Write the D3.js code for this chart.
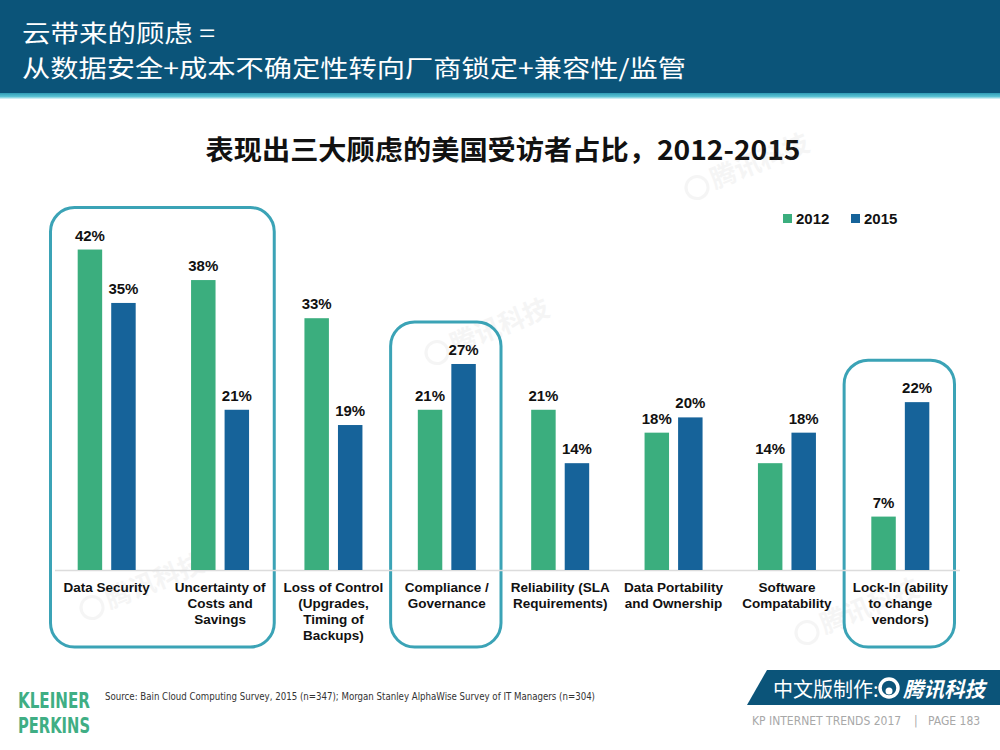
<!DOCTYPE html>
<html>
<head>
<meta charset="utf-8">
<script src="https://cdn.jsdelivr.net/npm/d3@7/dist/d3.min.js"></script>
<style>
  body { margin: 0; background: #fff; }
  svg { display: block; }
</style>
</head>
<body>
<div class="chart"></div>
<script>
(function (d3) {

    var categories = [
        ['Data Security'],
        ['Uncertainty of', 'Costs and', 'Savings'],
        ['Loss of Control', '(Upgrades,', 'Timing of', 'Backups)'],
        ['Compliance /', 'Governance'],
        ['Reliability (SLA', 'Requirements)'],
        ['Data Portability', 'and Ownership'],
        ['Software', 'Compatability'],
        ['Lock-In (ability', 'to change', 'vendors)']
    ];
    var years = ['2012', '2015'];
    var values2012 = [42, 38, 33, 21, 21, 18, 14, 7];
    var values2015 = [35, 21, 19, 27, 14, 20, 18, 22];
    // groups of categories that get a rounded outline
    var highlights = [[0, 1], [3, 3], [7, 7]];

    var colors = { '2012': '#3bae7e', '2015': '#16639a' };
    var width = 1000, height = 750;
    var baseline = 570;
    var latin = '"Liberation Sans", Arial, sans-serif';
    var narrow = '"Liberation Sans Narrow", "DejaVu Sans Condensed", sans-serif';
    var cjk = '"Noto Sans CJK SC", "Noto Sans", sans-serif';

    var svg = d3.select('.chart')
        .append('svg')
        .attr('width', width)
        .attr('height', height);

    // Header band
    var defs = svg.append('defs');
    var grad = defs.append('linearGradient')
        .attr('id', 'stripe').attr('x1', 0).attr('x2', 0).attr('y1', 0).attr('y2', 1);
    grad.append('stop').attr('offset', '0%').attr('stop-color', '#2f9cb6');
    grad.append('stop').attr('offset', '60%').attr('stop-color', '#5cc3d4');
    grad.append('stop').attr('offset', '100%').attr('stop-color', '#e8f8fa');

    svg.append('rect').attr('x', 0).attr('y', 0).attr('width', width).attr('height', 93)
        .attr('fill', '#0b5479');
    svg.append('rect').attr('x', 0).attr('y', 93).attr('width', width).attr('height', 6)
        .attr('fill', 'url(#stripe)');

    svg.append('text')
        .attr('x', 22).attr('y', 42)
        .attr('fill', '#fff')
        .attr('textLength', 193).attr('lengthAdjust', 'spacingAndGlyphs')
        .style('font-family', cjk).style('font-size', '24px')
        .text('云带来的顾虑 =');
    svg.append('text')
        .attr('x', 22).attr('y', 77)
        .attr('fill', '#fff')
        .attr('textLength', 664).attr('lengthAdjust', 'spacingAndGlyphs')
        .style('font-family', cjk).style('font-size', '24px')
        .text('从数据安全+成本不确定性转向厂商锁定+兼容性/监管');

    // Chart title
    svg.append('text')
        .attr('x', 503).attr('y', 160)
        .attr('text-anchor', 'middle')
        .attr('fill', '#111')
        .attr('textLength', 595).attr('lengthAdjust', 'spacingAndGlyphs')
        .style('font-family', cjk).style('font-size', '27px').style('font-weight', 'bold')
        .text('表现出三大顾虑的美国受访者占比，2012-2015');

    // Faint watermarks
    var marks = [[700, 195], [440, 360], [95, 615], [810, 640]];
    marks.forEach(function (m) {
        var g = svg.append('g')
            .attr('transform', 'translate(' + m[0] + ',' + m[1] + ') rotate(-22)')
            .attr('opacity', 0.08);
        g.append('circle').attr('cx', 0).attr('cy', -8).attr('r', 11)
            .attr('fill', 'none').attr('stroke', '#888').attr('stroke-width', 3);
        g.append('text').attr('x', 16).attr('y', 0)
            .attr('fill', '#888')
            .style('font-family', cjk).style('font-size', '26px').style('font-weight', 'bold')
            .text('腾讯科技');
    });

    // Scales
    var x = d3.scaleBand()
        .domain(d3.range(categories.length))
        .range([50, 957])
        .padding(0);

    var x1 = d3.scaleBand()
        .domain(years)
        .range([x.bandwidth() / 2 - 29, x.bandwidth() / 2 + 29])
        .paddingInner(0.27);

    var y = d3.scaleLinear()
        .domain([0, 50])
        .range([baseline, baseline - 50 * 7.63]);

    var groupTop = function (h) {
        return d3.max(d3.range(h[0], h[1] + 1), function (i) {
            return Math.max(values2012[i], values2015[i]);
        });
    };

    // Highlight boxes
    svg.selectAll('.box')
        .data(highlights)
        .enter()
            .append('rect')
            .attr('class', 'box')
            .attr('x', function (h) { return x(h[0]) + 0.5; })
            .attr('width', function (h) { return x(h[1]) + x.bandwidth() - x(h[0]) - 3; })
            .attr('y', function (h) { return y(groupTop(h)) - 42; })
            .attr('height', function (h) { return 647 - (y(groupTop(h)) - 42); })
            .attr('rx', 24)
            .attr('fill', 'none')
            .attr('stroke', '#3ba3b6')
            .attr('stroke-width', 3);

    // Baseline
    svg.append('line')
        .attr('x1', 55).attr('x2', 960)
        .attr('y1', baseline + 0.5).attr('y2', baseline + 0.5)
        .attr('stroke', '#dcdcdc').attr('stroke-width', 1.5);

    // Bars
    var groups = svg.selectAll('.group')
        .data(categories)
        .enter()
            .append('g')
            .attr('class', 'group')
            .attr('transform', function (c, i) { return 'translate(' + x(i) + ',0)'; });

    var series = function (i) {
        return [
            { year: '2012', value: values2012[i] },
            { year: '2015', value: values2015[i] }
        ];
    };

    groups.selectAll('rect.bar')
        .data(function (c, i) { return series(i); })
        .enter()
            .append('rect')
            .attr('class', 'bar')
            .attr('x', function (d) { return x1(d.year); })
            .attr('width', x1.bandwidth())
            .attr('y', function (d) { return y(d.value); })
            .attr('height', function (d) { return baseline - y(d.value); })
            .attr('fill', function (d) { return colors[d.year]; });

    groups.selectAll('text.value')
        .data(function (c, i) { return series(i); })
        .enter()
            .append('text')
            .attr('class', 'value')
            .attr('x', function (d) { return x1(d.year) + x1.bandwidth() / 2; })
            .attr('y', function (d) { return y(d.value) - 9; })
            .attr('text-anchor', 'middle')
            .attr('fill', '#111')
            .style('font-family', latin).style('font-size', '15px').style('font-weight', 'bold')
            .text(function (d) { return d.value + '%'; });

    // Category labels
    groups.append('text')
        .attr('text-anchor', 'middle')
        .attr('fill', '#111')
        .style('font-family', latin).style('font-size', '13.5px').style('font-weight', 'bold')
        .selectAll('tspan')
        .data(function (c) { return c; })
        .enter()
            .append('tspan')
            .attr('x', x.bandwidth() / 2)
            .attr('y', function (l, j) { return 592 + j * 16; })
            .text(function (l) { return l; });

    // Legend
    var legend = svg.selectAll('.legend')
        .data(years)
        .enter()
            .append('g')
            .attr('class', 'legend')
            .attr('transform', function (yr, i) { return 'translate(' + (783 + i * 68) + ',214)'; });
    legend.append('rect')
        .attr('width', 9).attr('height', 9)
        .attr('fill', function (yr) { return colors[yr]; });
    legend.append('text')
        .attr('x', 13).attr('y', 10)
        .attr('fill', '#111')
        .style('font-family', latin).style('font-size', '15px').style('font-weight', 'bold')
        .text(function (yr) { return yr; });

    // Footer
    svg.append('text')
        .attr('x', 18).attr('y', 708)
        .attr('fill', '#3fae84')
        .attr('textLength', 72).attr('lengthAdjust', 'spacingAndGlyphs')
        .style('font-family', narrow).style('font-size', '22px').style('font-weight', 'bold')
        .text('KLEINER');
    svg.append('text')
        .attr('x', 18).attr('y', 733)
        .attr('fill', '#3fae84')
        .attr('textLength', 72).attr('lengthAdjust', 'spacingAndGlyphs')
        .style('font-family', narrow).style('font-size', '22px').style('font-weight', 'bold')
        .text('PERKINS');

    svg.append('text')
        .attr('x', 105).attr('y', 700)
        .attr('fill', '#333')
        .attr('textLength', 490).attr('lengthAdjust', 'spacingAndGlyphs')
        .style('font-family', narrow).style('font-size', '10px')
        .text('Source: Bain Cloud Computing Survey, 2015 (n=347); Morgan Stanley AlphaWise Survey of IT Managers (n=304)');

    svg.append('path')
        .attr('d', 'M767,670 L1000,670 L1000,705 L747,705 Z')
        .attr('fill', '#0b5479');
    svg.append('text')
        .attr('x', 773).attr('y', 697)
        .attr('fill', '#fff')
        .style('font-family', cjk).style('font-size', '20px')
        .text('中文版制作:');
    svg.append('circle')
        .attr('cx', 889).attr('cy', 688).attr('r', 9)
        .attr('fill', 'none').attr('stroke', '#fff').attr('stroke-width', 3.5);
    svg.append('circle')
        .attr('cx', 889).attr('cy', 691).attr('r', 3.5)
        .attr('fill', '#fff');
    svg.append('text')
        .attr('x', 903).attr('y', 697)
        .attr('fill', '#fff')
        .attr('textLength', 82).attr('lengthAdjust', 'spacingAndGlyphs')
        .style('font-family', cjk).style('font-size', '21px').style('font-weight', 'bold')
        .style('font-style', 'italic')
        .text('腾讯科技');

    var pageInfo = svg.append('text')
        .attr('y', 725)
        .attr('fill', '#a8a8a8')
        .style('font-family', narrow).style('font-size', '12px');
    pageInfo.append('tspan').attr('x', 752).text('KP INTERNET TRENDS 2017');
    pageInfo.append('tspan').attr('x', 914).text('|');
    pageInfo.append('tspan').attr('x', 928).text('PAGE 183');

})(window.d3);
</script>
</body>
</html>
